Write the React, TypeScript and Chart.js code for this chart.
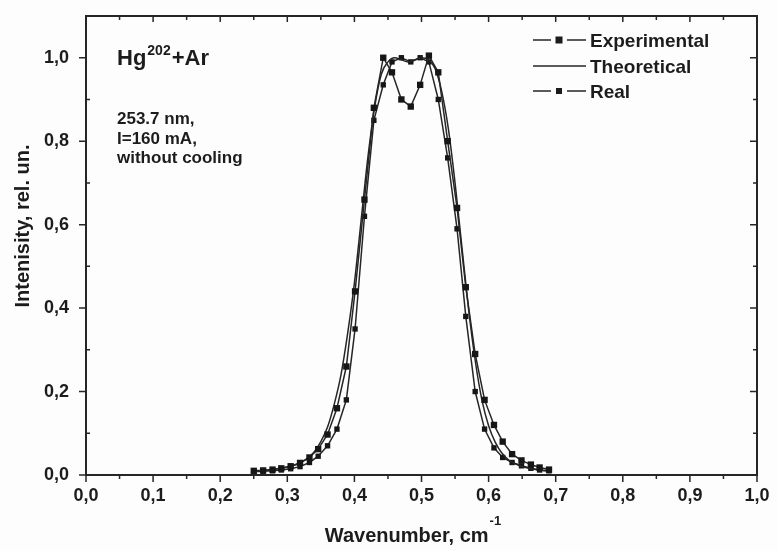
import { useEffect, useRef } from "react";
import { Chart, registerables } from "chart.js";

Chart.register(...registerables);

// ---- data ----
const xTickValues = [0, 0.1, 0.2, 0.3, 0.4, 0.5, 0.6, 0.7, 0.8, 0.9, 1.0];
const yTickValues = [0, 0.2, 0.4, 0.6, 0.8, 1.0];

const markerX = [
  0.25, 0.264, 0.278, 0.291, 0.305, 0.319, 0.333, 0.346, 0.36, 0.374, 0.388,
  0.401, 0.415, 0.429, 0.443, 0.456, 0.47, 0.484, 0.498, 0.511, 0.525, 0.539,
  0.553, 0.566, 0.58, 0.594, 0.608, 0.621, 0.635, 0.649, 0.663, 0.676, 0.69,
];
const experimentalY = [
  0.01, 0.011, 0.013, 0.016, 0.021, 0.029, 0.042, 0.062, 0.097, 0.16, 0.26,
  0.44, 0.66, 0.88, 1.0, 0.965, 0.9, 0.883, 0.935, 1.005, 0.965, 0.8,
  0.64, 0.45, 0.29, 0.18, 0.12, 0.08, 0.05, 0.035, 0.025, 0.018, 0.013,
];
const realY = [
  0.008, 0.009, 0.01, 0.012, 0.015, 0.02, 0.03, 0.045, 0.07, 0.11, 0.18,
  0.35, 0.62, 0.85, 0.935, 0.99, 1.0, 0.99, 1.0, 0.99, 0.9, 0.76,
  0.59, 0.38, 0.2, 0.11, 0.065, 0.042, 0.03, 0.022, 0.016, 0.012, 0.01,
];
const theoryX = [
  0.25, 0.26, 0.27, 0.28, 0.29, 0.3, 0.31, 0.32, 0.33, 0.34, 0.35, 0.36, 0.37,
  0.38, 0.39, 0.4, 0.41, 0.42, 0.43, 0.44, 0.45, 0.46, 0.47, 0.48, 0.49, 0.5,
  0.51, 0.52, 0.53, 0.54, 0.55, 0.56, 0.57, 0.58, 0.59, 0.6, 0.61, 0.62, 0.63,
  0.64, 0.65, 0.66, 0.67, 0.68, 0.69,
];
const theoryY = [
  0.01, 0.011, 0.012, 0.014, 0.016, 0.019, 0.023, 0.03, 0.04, 0.055, 0.08,
  0.115, 0.17, 0.24, 0.34, 0.46, 0.61, 0.76, 0.88, 0.96, 0.99, 1.0, 0.995,
  0.99, 0.995, 1.0, 0.995, 0.975, 0.92, 0.83, 0.7, 0.55, 0.4, 0.275, 0.18,
  0.118, 0.078, 0.052, 0.036, 0.027, 0.02, 0.016, 0.013, 0.011, 0.01,
];
const legendLabels = ["Experimental", "Theoretical", "Real"];
const noteTitle = ["Hg", "202", "+Ar"];
const noteLines = ["253.7 nm,", "I=160 mA,", "without cooling"];
const xTitle = ["Wavenumber, cm", "-1"];
const yTitle = "Intenisity, rel. un.";

const FONT = "'Liberation Sans', Arial, sans-serif";
const INK = "#1c1c1c";
const LINE = "#262626";

const fmt = (v: number) => v.toFixed(1).replace(".", ",");

const decor = {
  id: "decor",
  beforeDraw(chart: any) {
    const { ctx, width, height } = chart;
    ctx.save();
    ctx.fillStyle = "#fdfdfd";
    ctx.fillRect(0, 0, width, height);
    ctx.restore();
  },
  afterDraw(chart: any) {
    const { ctx, chartArea: a, scales } = chart;
    const sx = scales.x;
    const sy = scales.y;
    ctx.save();
    ctx.strokeStyle = LINE;
    ctx.lineWidth = 2;
    ctx.strokeRect(a.left, a.top, a.right - a.left, a.bottom - a.top);

    ctx.lineWidth = 1.5;
    ctx.beginPath();
    for (let i = 0; i <= 20; i++) {
      const px = sx.getPixelForValue(i * 0.05);
      const major = i % 2 === 0;
      ctx.moveTo(px, a.bottom);
      ctx.lineTo(px, a.bottom + (major ? 7 : 4));
      ctx.moveTo(px, a.top);
      ctx.lineTo(px, a.top + (major ? 6 : 4));
    }
    for (let i = 0; i <= 10; i++) {
      const py = sy.getPixelForValue(i * 0.1);
      const major = i % 2 === 0;
      if (major) {
        ctx.moveTo(a.left, py);
        ctx.lineTo(a.left - 7, py);
      } else {
        ctx.moveTo(a.left, py);
        ctx.lineTo(a.left + 4, py);
      }
      ctx.moveTo(a.right, py);
      ctx.lineTo(a.right - (major ? 7 : 4), py);
    }
    ctx.stroke();

    ctx.fillStyle = INK;
    ctx.textBaseline = "alphabetic";
    ctx.textAlign = "left";

    let x = 117;
    ctx.font = `bold 22px ${FONT}`;
    ctx.fillText(noteTitle[0], x, 65);
    x += ctx.measureText(noteTitle[0]).width + 1;
    ctx.font = `bold 14px ${FONT}`;
    ctx.fillText(noteTitle[1], x, 55);
    x += ctx.measureText(noteTitle[1]).width + 1;
    ctx.font = `bold 22px ${FONT}`;
    ctx.fillText(noteTitle[2], x, 65);

    ctx.font = `bold 17px ${FONT}`;
    const noteBase = [124, 143.5, 163];
    noteLines.forEach((t, i) => ctx.fillText(t, 117, noteBase[i]));

    const legY = [40, 66, 91];
    const legBase = [47, 73, 98];
    ctx.strokeStyle = LINE;
    ctx.lineWidth = 1.5;
    legendLabels.forEach((t, i) => {
      const y = legY[i];
      ctx.beginPath();
      if (i === 1) {
        ctx.moveTo(533, y);
        ctx.lineTo(586, y);
      } else {
        ctx.moveTo(533, y);
        ctx.lineTo(551, y);
        ctx.moveTo(567, y);
        ctx.lineTo(586, y);
      }
      ctx.stroke();
      if (i !== 1) {
        const s = i === 0 ? 7 : 6;
        ctx.fillRect(559 - s / 2, y - s / 2, s, s);
      }
      ctx.font = `bold 19px ${FONT}`;
      ctx.fillText(t, 590, legBase[i]);
    });

    ctx.font = `bold 20px ${FONT}`;
    const w1 = ctx.measureText(xTitle[0]).width;
    ctx.font = `bold 13px ${FONT}`;
    const w2 = ctx.measureText(xTitle[1]).width;
    const startX = 413 - (w1 + w2 + 1) / 2;
    ctx.font = `bold 20px ${FONT}`;
    ctx.fillText(xTitle[0], startX, 542);
    ctx.font = `bold 13px ${FONT}`;
    ctx.fillText(xTitle[1], startX + w1 + 1, 525);

    ctx.save();
    ctx.translate(29, 226);
    ctx.rotate(-Math.PI / 2);
    ctx.textAlign = "center";
    ctx.font = `bold 20px ${FONT}`;
    ctx.fillText(yTitle, 0, 0);
    ctx.restore();

    ctx.restore();
  },
};

export default function App() {
  const ref = useRef<HTMLCanvasElement | null>(null);

  useEffect(() => {
    if (!ref.current) return;
    const tickFont = { family: FONT, size: 18, weight: "bold" as const };
    const chart = new Chart(ref.current, {
      type: "line",
      data: {
        datasets: [
          {
            label: legendLabels[0],
            data: markerX.map((x, i) => ({ x, y: experimentalY[i] })),
            borderColor: LINE,
            borderWidth: 1.5,
            pointStyle: "rect",
            pointRadius: 4.5,
            pointBackgroundColor: "#161616",
            pointBorderWidth: 0,
            tension: 0,
          },
          {
            label: legendLabels[1],
            data: theoryX.map((x, i) => ({ x, y: theoryY[i] })),
            borderColor: LINE,
            borderWidth: 1.5,
            pointRadius: 0,
            cubicInterpolationMode: "monotone",
          },
          {
            label: legendLabels[2],
            data: markerX.map((x, i) => ({ x, y: realY[i] })),
            borderColor: LINE,
            borderWidth: 1.5,
            pointStyle: "rect",
            pointRadius: 3.8,
            pointBackgroundColor: "#161616",
            pointBorderWidth: 0,
            tension: 0,
          },
        ],
      },
      options: {
        animation: false,
        responsive: false,
        maintainAspectRatio: false,
        layout: { padding: { left: 0, right: 20, top: 16, bottom: 0 } },
        plugins: {
          legend: { display: false },
          tooltip: { enabled: false },
        },
        scales: {
          x: {
            type: "linear",
            min: 0,
            max: 1,
            afterBuildTicks: (s: any) => {
              s.ticks = xTickValues.map((v) => ({ value: v }));
            },
            afterFit: (s: any) => {
              s.height = 76;
              s.paddingLeft = 0;
              s.paddingRight = 0;
            },
            ticks: {
              callback: (v: any) => fmt(Number(v)),
              font: tickFont,
              color: INK,
              padding: 10,
              maxRotation: 0,
              autoSkip: false,
            },
            grid: { display: false, drawTicks: false },
            border: { display: false },
          },
          y: {
            type: "linear",
            min: 0,
            max: 1.1,
            afterBuildTicks: (s: any) => {
              s.ticks = yTickValues.map((v) => ({ value: v }));
            },
            afterFit: (s: any) => {
              s.width = 86;
              s.paddingTop = 0;
              s.paddingBottom = 0;
            },
            ticks: {
              callback: (v: any) => fmt(Number(v)),
              font: tickFont,
              color: INK,
              padding: 17,
              autoSkip: false,
            },
            grid: { display: false, drawTicks: false },
            border: { display: false },
          },
        },
      },
      plugins: [decor],
    });
    return () => chart.destroy();
  }, []);

  return (
    <div style={{ position: "fixed", left: 0, top: 0, width: 777, height: 551 }}>
      <canvas ref={ref} width={777} height={551} style={{ width: 777, height: 551 }} />
    </div>
  );
}
